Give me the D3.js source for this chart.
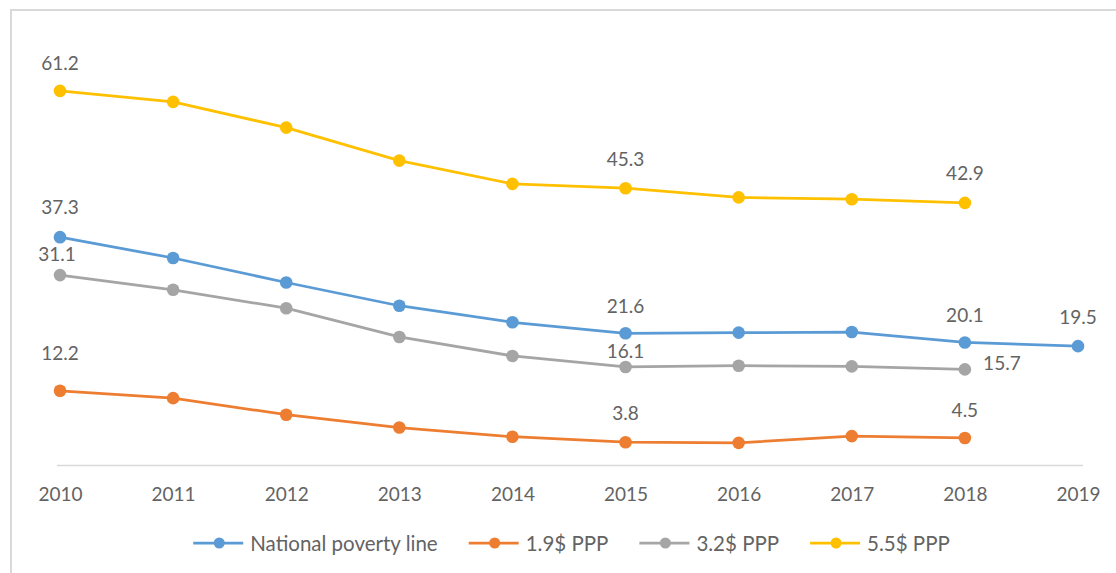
<!DOCTYPE html>
<html>
<head>
<meta charset="utf-8">
<script src="https://cdn.jsdelivr.net/npm/d3@7"></script>
<style>
  html, body { margin: 0; padding: 0; background: #fff; }
  svg { display: block; }
  text { font-family: Lato, "Open Sans", sans-serif; fill: #636363; }
</style>
</head>
<body>
<svg id="chart" width="1116" height="573"></svg>
<script>
const years = ["2010","2011","2012","2013","2014","2015","2016","2017","2018","2019"];
const seriesNames = ["National poverty line","1.9$ PPP","3.2$ PPP","5.5$ PPP"];
const nationalLine = [37.3, 33.9, 29.9, 26.1, 23.4, 21.6, 21.7, 21.8, 20.1, 19.5];
const ppp19 = [12.2, 11.0, 8.3, 6.2, 4.7, 3.8, 3.7, 4.8, 4.5, null];
const ppp32 = [31.1, 28.7, 25.7, 21.0, 17.9, 16.1, 16.3, 16.2, 15.7, null];
const ppp55 = [61.2, 59.4, 55.2, 49.8, 46.0, 45.3, 43.8, 43.5, 42.9, null];
const colors = ["#5B9BD5", "#ED7D31", "#A5A5A5", "#FFC000"];
// which points carry a data label: [series index, point index, dx, dy]
const labelSpots = [
  [3,0,0,-28],[3,5,0,-30],[3,8,0,-30],
  [0,0,0,-31],[0,5,0,-28],[0,8,0,-28],[0,9,0,-30],
  [2,0,-3,-22],[2,5,0,-16],[2,8,37,-7],
  [1,0,0,-38],[1,5,0,-30],[1,8,0,-28]
];

const allSeries = [nationalLine, ppp19, ppp32, ppp55];
const svg = d3.select("#chart");

// outer chart border (extends past canvas right/bottom)
svg.append("rect").attr("x", 11).attr("y", 10).attr("width", 1200).attr("height", 700)
  .attr("fill", "#fff").attr("stroke", "#d9d9d9").attr("stroke-width", 2);

const x = d3.scalePoint().domain(years).range([60, 1078]);
const y = d3.scaleLinear().domain([0, 70]).range([465.5, 37]);

// category axis
svg.append("line").attr("x1", x(years[0]) - 3).attr("x2", x(years[years.length-1]) + 5)
  .attr("y1", y(0)).attr("y2", y(0)).attr("stroke", "#d9d9d9").attr("stroke-width", 1.5);

const xAxis = svg.append("g").attr("transform", `translate(0,${y(0)})`)
  .call(d3.axisBottom(x).tickSize(0).tickPadding(22));
xAxis.select(".domain").remove();
xAxis.selectAll("text").style("font-family", "Lato, sans-serif").style("font-size", "19px").attr("fill", "#636363");

const line = d3.line().defined(d => d != null).x((d, i) => x(years[i])).y(d => y(d));

allSeries.forEach((vals, si) => {
  const g = svg.append("g");
  g.append("path").datum(vals).attr("d", line).attr("fill", "none")
    .attr("stroke", colors[si]).attr("stroke-width", 2.75).attr("stroke-linejoin", "round");
  g.selectAll("circle").data(vals.map((v, i) => ({v, i})).filter(d => d.v != null))
    .enter().append("circle")
    .attr("cx", d => x(years[d.i])).attr("cy", d => y(d.v)).attr("r", 6.3)
    .attr("fill", colors[si]);
});

// data labels
svg.append("g").selectAll("text").data(labelSpots).enter().append("text")
  .attr("x", d => x(years[d[1]]) + d[2])
  .attr("y", d => y(allSeries[d[0]][d[1]]) + d[3])
  .attr("text-anchor", "middle").attr("dominant-baseline", "central")
  .style("font-size", "19px")
  .text(d => allSeries[d[0]][d[1]].toFixed(1));

// legend
const legend = svg.append("g");
let cx = 0;
seriesNames.forEach((name, si) => {
  const g = legend.append("g").attr("transform", `translate(${cx},0)`);
  g.append("line").attr("x1", 0).attr("x2", 50).attr("y1", 0).attr("y2", 0)
    .attr("stroke", colors[si]).attr("stroke-width", 2.75);
  g.append("circle").attr("cx", 26).attr("cy", 0).attr("r", 5.5).attr("fill", colors[si]);
  const t = g.append("text").attr("x", 57).attr("y", 0).attr("dominant-baseline", "central")
    .style("font-size", "20.5px").text(name);
  const w = 57 + t.node().getComputedTextLength();
  cx += w + 31;
});
const totalW = cx - 31;
legend.attr("transform", `translate(${571.5 - totalW / 2},543)`);
</script>
</body>
</html>
